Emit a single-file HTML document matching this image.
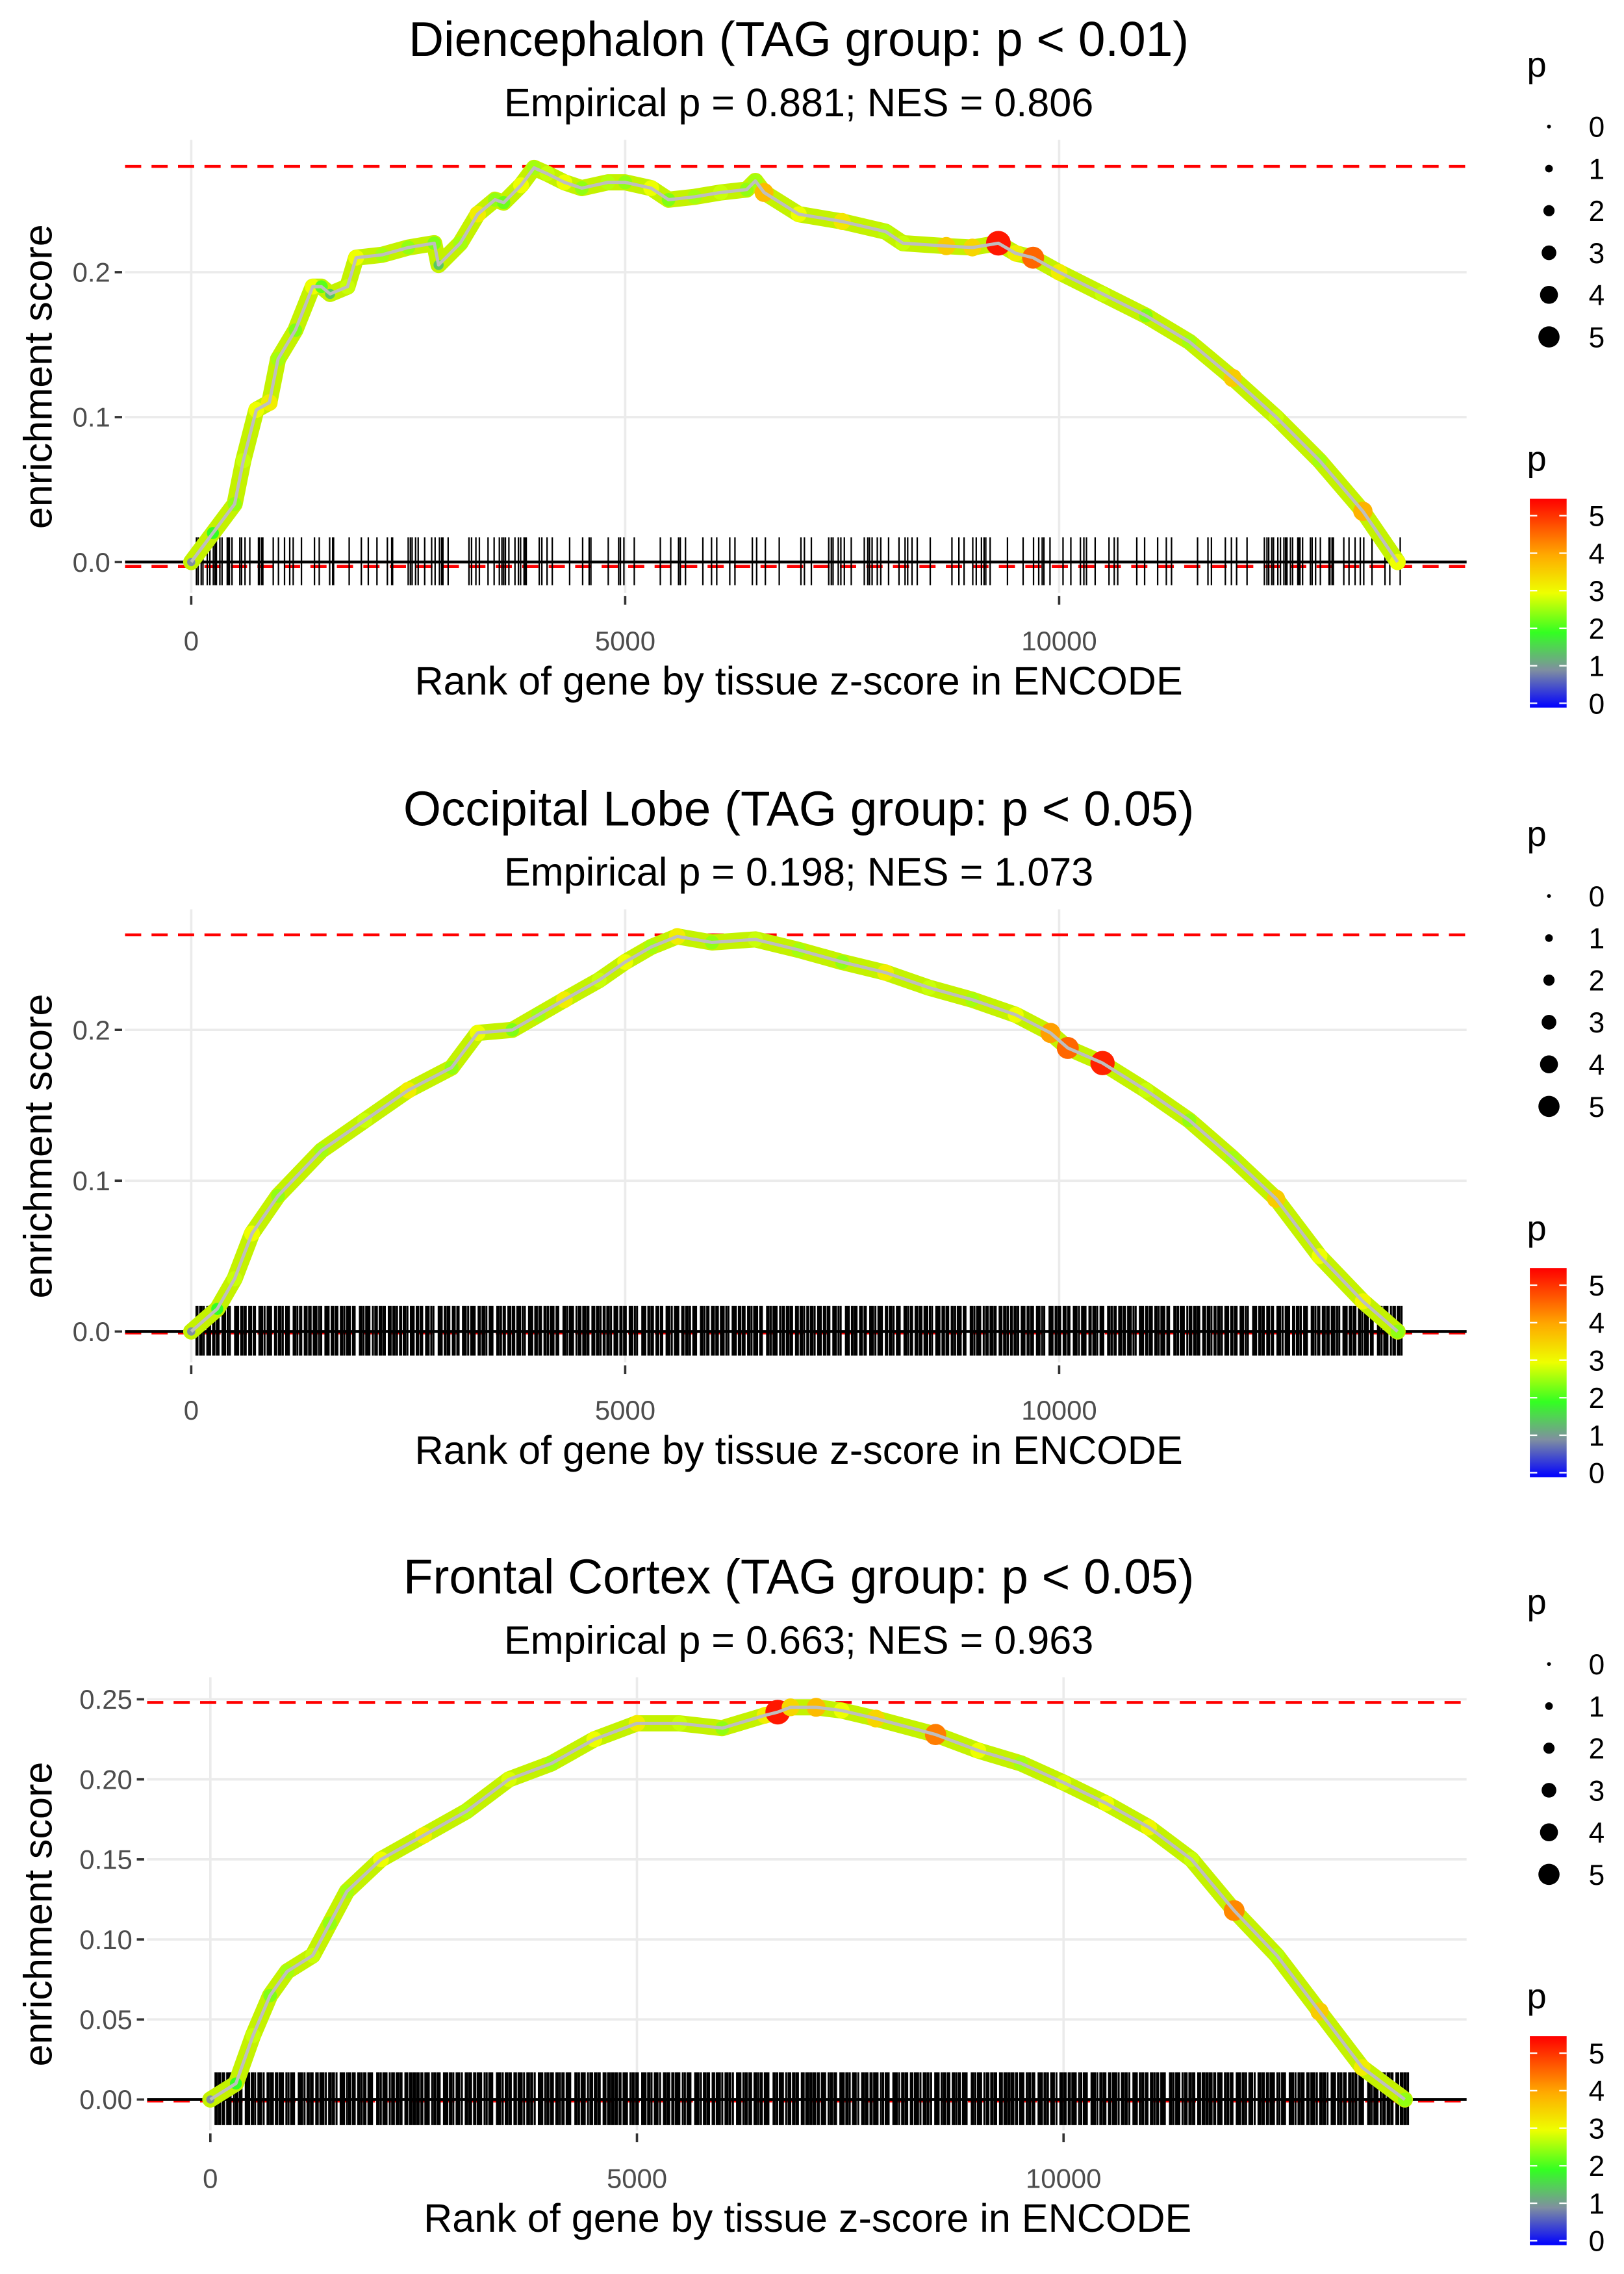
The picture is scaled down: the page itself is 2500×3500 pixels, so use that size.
<!DOCTYPE html>
<html><head><meta charset="utf-8"><title>Enrichment plots</title>
<style>
html,body{margin:0;padding:0;background:#fff;}
svg{display:block;font-family:"Liberation Sans",sans-serif;}
</style></head>
<body>
<svg id="chart" width="2500" height="3500" viewBox="0 0 1104 1545.6" xmlns="http://www.w3.org/2000/svg">
<defs>
<linearGradient id="pgrad" x1="0" y1="1" x2="0" y2="0">
<stop offset="0" stop-color="#0000ff"/>
<stop offset="0.18" stop-color="#7f8fa0"/>
<stop offset="0.36" stop-color="#33ff22"/>
<stop offset="0.55" stop-color="#eeff00"/>
<stop offset="0.73" stop-color="#ffaa00"/>
<stop offset="1" stop-color="#ff0000"/>
</linearGradient>
</defs>
</svg>
<script>
// ---------- data ----------
const titles = ["Diencephalon (TAG group: p < 0.01)","Occipital Lobe (TAG group: p < 0.05)","Frontal Cortex (TAG group: p < 0.05)"];
const subtitles = ["Empirical p = 0.881; NES = 0.806","Empirical p = 0.198; NES = 1.073","Empirical p = 0.663; NES = 0.963"];
const maxES = [0.273, 0.263, 0.248];
const minES = [-0.003, 0, 0];

const ranks1 = [0,250,500,600,750,900,1000,1200,1400,1500,1600,1800,1900,2200,2500,2800,2850,3100,3300,3500,3600,3800,3950,4100,4300,4500,4800,5000,5300,5500,5800,6100,6400,6500,6600,7000,7500,8000,8200,8700,9000,9300,9500,9700,10000,10500,11000,11500,12000,12500,13000,13500,13900];
const es1 = [0,0.02,0.04,0.07,0.105,0.11,0.14,0.16,0.19,0.19,0.185,0.19,0.21,0.212,0.217,0.22,0.205,0.22,0.24,0.25,0.248,0.26,0.272,0.268,0.262,0.258,0.262,0.262,0.258,0.25,0.252,0.255,0.257,0.263,0.255,0.24,0.235,0.228,0.22,0.218,0.217,0.22,0.213,0.21,0.2,0.185,0.17,0.152,0.127,0.1,0.07,0.035,0];
const p1 = [1,2,2.5,2.8,3,3.2,2.6,2.4,3,2.2,1.5,2.8,3,2.6,2.5,2.4,1.5,2.6,3.2,2.5,2.3,3,2.6,2.8,3,2.5,2.7,2.5,3,2.4,2.6,2.8,2.5,2.6,3.8,3,3.3,2.7,2.8,3.6,3.5,5.3,3.2,4.6,3.2,2.8,2.4,2.6,3.6,2.8,2.6,3.9,3];

const ranks2 = [0,300,500,700,1000,1500,2000,2500,3000,3300,3700,4000,4300,4700,5000,5300,5600,6000,6500,7000,7500,8000,8500,9000,9500,9900,10100,10500,11000,11500,12000,12500,13000,13500,13900];
const es2 = [0,0.015,0.035,0.065,0.09,0.12,0.14,0.16,0.175,0.198,0.2,0.21,0.22,0.233,0.245,0.255,0.262,0.258,0.26,0.253,0.245,0.238,0.228,0.22,0.21,0.198,0.188,0.178,0.16,0.14,0.115,0.088,0.05,0.02,0];
const p2 = [1,2,2.8,3,2.5,2.6,2.8,3.2,2.5,3,2.4,2.6,3.2,2.8,3,2.6,3.2,2.5,2.8,2.6,2.5,3.2,2.8,2.6,3,4.1,4.6,5.2,2.8,2.5,2.6,3.6,3,3.1,2.5];

const ranks3 = [0,300,500,700,900,1200,1400,1600,2000,2500,3000,3500,4000,4500,5000,5500,6000,6500,6650,6800,7100,7400,7800,8500,9000,9500,10000,10500,11000,11500,12000,12500,13000,13500,14000];
const es3 = [0,0.01,0.04,0.065,0.08,0.09,0.11,0.13,0.15,0.165,0.18,0.2,0.21,0.225,0.235,0.235,0.232,0.24,0.242,0.245,0.245,0.243,0.238,0.228,0.218,0.21,0.198,0.185,0.17,0.15,0.118,0.09,0.055,0.02,0];
const p3 = [1,2,2.8,2.4,2.6,2.8,2.5,2.6,3,3.2,2.7,2.9,2.6,3,3.2,2.8,2.5,3.2,5.3,3.5,3.8,3,3.5,4.4,3,2.6,2.9,3,3.1,2.8,4.3,2.7,3.6,3.2,2.5];

// rug: gene hit ranks encoded as gaps between consecutive hits
const gaps1 = [20,35,20,50,30,40,20,15,40,25,60,15,10,30,90,20,40,55,100,10,25,15,120,60,70,60,40,95,150,55,120,35,10,180,140,80,100,120,50,10,180,25,20,40,30,75,80,40,50,25,15,60,240,30,50,40,100,70,60,30,20,20,40,70,40,25,40,15,10,150,30,60,60,200,150,75,20,200,120,20,40,120,300,120,90,20,60,200,100,60,150,60,200,50,100,160,250,40,80,200,30,20,60,30,40,80,150,40,20,30,60,40,90,120,70,30,50,60,150,250,80,60,100,40,60,30,20,50,200,180,120,60,40,20,70,150,90,110,40,30,100,160,60,40,220,90,150,100,60,300,120,40,160,70,60,120,200,30];
const gaps2 = [12,30,18,25,40,10,22,35,15,28,20,45,12,18,30,25,60,15,20,35,10,25,18,40,22,30,15,50,20,12,28,35,18,22,45,15,30,20,25,38,12,20,55,18,25,30,15,40,22,28,18,35,20,12,30,25,48,15,22,35,18,28,20,40,15,25,30,12,22,35,20,60,18,25,30,15,22,40,28,18,32,20,25,15,45,22,30,18,25,35];
const gaps3 = [15,25,20,30,12,35,22,18,40,25,15,28,20,50,18,22,30,15,25,38,20,12,30,45,18,25,20,35,15,28,22,18,40,25,30,15,20,55,22,18,28,35,15,25,20,42,18,30,22,15,28,38,20,25,12,30,48,18,22,35,25,15,30,20,40,18,25,28,15,35,22,20,60,18,25,30,15,22,38,28,20,32,18,25,15,45,22,30,20,25];
const rugEnd = [13950, 13950, 14050];

// x/y tick labels
const xTicks = [0, 5000, 10000];
const yTicks1 = [0, 0.1, 0.2];
const yTicks3 = [0, 0.05, 0.1, 0.15, 0.2, 0.25];
const legendVals = [0,1,2,3,4,5];

// ---------- drawing ----------
const NS = "http://www.w3.org/2000/svg";
const svg = document.getElementById("chart");
function mk(tag, attrs, parent){ const e=document.createElementNS(NS,tag); for(const k in attrs) e.setAttribute(k,attrs[k]); (parent||svg).appendChild(e); return e; }
function txt(s, attrs, parent){ const e=mk("text",attrs,parent); e.textContent=s; return e; }

const stops=[[0,[0,0,255]],[1,[127,143,160]],[2,[51,255,34]],[3,[238,255,0]],[4,[255,170,0]],[5.5,[255,0,0]]];
function pColor(p){
  for(let i=0;i<stops.length-1;i++){
    const [a,ca]=stops[i],[b,cb]=stops[i+1];
    if(p<=b||i===stops.length-2){ const t=Math.max(0,Math.min(1,(p-a)/(b-a))); return "rgb("+ca.map((c,j)=>Math.round(c+(cb[j]-c)*t)).join(",")+")"; }
  }
}
function pRadius(p){ return 1.5 + p*1.3; }

const panels = [
  {off:0, x0:130, x10k:720, y0:382, ypu:985, left:85, right:997, ranks:ranks1, es:es1, p:p1, gaps:gaps1, yt:yTicks1, fmt:v=>v.toFixed(1), tw:1.0},
  {off:523, x0:130, x10k:720, y0:905, ypu:1025, left:85, right:997, ranks:ranks2, es:es2, p:p2, gaps:gaps2, yt:yTicks1, fmt:v=>v.toFixed(1), tw:1.35},
  {off:1045, x0:143, x10k:723, y0:1427, ypu:1088, left:100, right:997, ranks:ranks3, es:es3, p:p3, gaps:gaps3, yt:yTicks3, fmt:v=>v.toFixed(2), tw:1.35}
];

panels.forEach((P, i) => {
  const g = mk("g", {});
  
  
  const xs = r => P.x0 + (P.x10k - P.x0) * r / 10000;
  const ys = v => P.y0 - v * P.ypu;
  const top = P.off + 95, bottom = P.off + 400;

  const t = txt(titles[i], {x:543, y:P.off+38, "font-size":33, "text-anchor":"middle", fill:"#000"}, g);
  
  
  const st = txt(subtitles[i], {x:543, y:P.off+79, "font-size":27, "text-anchor":"middle", fill:"#000"}, g);
  
  

  // grid
  P.yt.forEach(v => {
    const l = mk("line", {x1:P.left, x2:P.right, y1:ys(v), y2:ys(v), stroke:"#ebebeb", "stroke-width":1.6}, g);
    
    
    const tk = mk("line", {x1:P.left-7, x2:P.left-2, y1:ys(v), y2:ys(v), stroke:"#333", "stroke-width":1.6}, g);
    
    
    const lb = txt(P.fmt(v), {x:P.left-10, y:ys(v)+6.5, "font-size":18.5, "text-anchor":"end", fill:"#4d4d4d"}, g);
    
    
  });
  xTicks.forEach(r => {
    const l = mk("line", {x1:xs(r), x2:xs(r), y1:top, y2:bottom+3, stroke:"#ebebeb", "stroke-width":1.6}, g);
    
    
    const tk = mk("line", {x1:xs(r), x2:xs(r), y1:bottom+5, y2:bottom+11, stroke:"#333", "stroke-width":1.6}, g);
    
    
    const lb = txt(String(r), {x:xs(r), y:bottom+42, "font-size":18.5, "text-anchor":"middle", fill:"#4d4d4d"}, g);
    
    
  });

  // dashed max/min lines
  const mx = mk("line", {x1:P.left, x2:P.right, y1:ys(maxES[i]), y2:ys(maxES[i]), stroke:"#ff0000", "stroke-width":2, "stroke-dasharray":"11 7"}, g);
  
  
  const mn = mk("line", {x1:P.left, x2:P.right, y1:ys(minES[i])+ (i===0?0:1), y2:ys(minES[i])+(i===0?0:1), stroke:"#ff0000", "stroke-width":2, "stroke-dasharray":"11 7"}, g);
  
  

  // rug
  const rug = mk("g", {}, g);
  
  
  let r = 60, k = 0, d = "";
  while (r < rugEnd[i]) {
    d += "M" + xs(r).toFixed(2) + " " + ys(0.017) + "V" + ys(-0.016);
    r += P.gaps[k % P.gaps.length]; k++;
  }
  mk("path", {d:d, stroke:"#000", "stroke-width":P.tw, fill:"none"}, rug);

  // zero line
  const z = mk("line", {x1:P.left, x2:P.right, y1:ys(0), y2:ys(0), stroke:"#000", "stroke-width":2}, g);
  
  

  // ES curve
  const pts = P.ranks.map((rr, j) => xs(rr).toFixed(2) + "," + ys(P.es[j]).toFixed(2)).join(" ");
  const under = mk("polyline", {points:pts, fill:"none", stroke:"#c4f200", "stroke-width":11, "stroke-linejoin":"round", "stroke-linecap":"round"}, g);
  
  
  P.ranks.forEach((rr, j) => {
    const c = mk("circle", {cx:xs(rr), cy:ys(P.es[j]), r:pRadius(P.p[j]), fill:pColor(P.p[j])}, g);
    
    
  });
  const line = mk("polyline", {points:pts, fill:"none", stroke:"#bebebe", "stroke-width":2.2, "stroke-linejoin":"round"}, g);
  
  

  // axis titles
  const xt = txt("Rank of gene by tissue z-score in ENCODE", {x:(i===2?549:543), y:P.off+472, "font-size":27, "text-anchor":"middle", fill:"#000"}, g);
  
  
  const yt = txt("enrichment score", {x:0, y:0, "font-size":27, "text-anchor":"middle", fill:"#000", transform:"translate(35,"+(P.off+256)+") rotate(-90)"}, g);
  
  

  // size legend
  const lg = mk("g", {}, g);
  
  
  txt("p", {x:1038, y:P.off+52, "font-size":24, fill:"#000"}, lg);
  legendVals.forEach((v, j) => {
    const cy = P.off + 86 + j * 28.6;
    const c = mk("circle", {cx:1053, cy:cy, r:[1.3,2.6,3.8,5.0,6.1,7.2][j], fill:"#000"}, lg);
    
    
    txt(String(v), {x:1080, y:cy+7, "font-size":19.5, fill:"#000"}, lg);
  });
  // colour legend
  const cl = mk("g", {}, g);
  
  
  txt("p", {x:1038, y:P.off+320, "font-size":24, fill:"#000"}, cl);
  const bar = mk("rect", {x:1040, y:P.off+339, width:25, height:142, fill:"url(#pgrad)"}, cl);
  
  
  legendVals.forEach((v, j) => {
    const yy = P.off + 478 - j * 25.5;
    mk("line", {x1:1040, x2:1045, y1:yy, y2:yy, stroke:"#fff", "stroke-width":1}, cl);
    mk("line", {x1:1060, x2:1065, y1:yy, y2:yy, stroke:"#fff", "stroke-width":1}, cl);
    txt(String(v), {x:1080, y:yy+7, "font-size":19.5, fill:"#000"}, cl);
  });
});
</script>
</body></html>
